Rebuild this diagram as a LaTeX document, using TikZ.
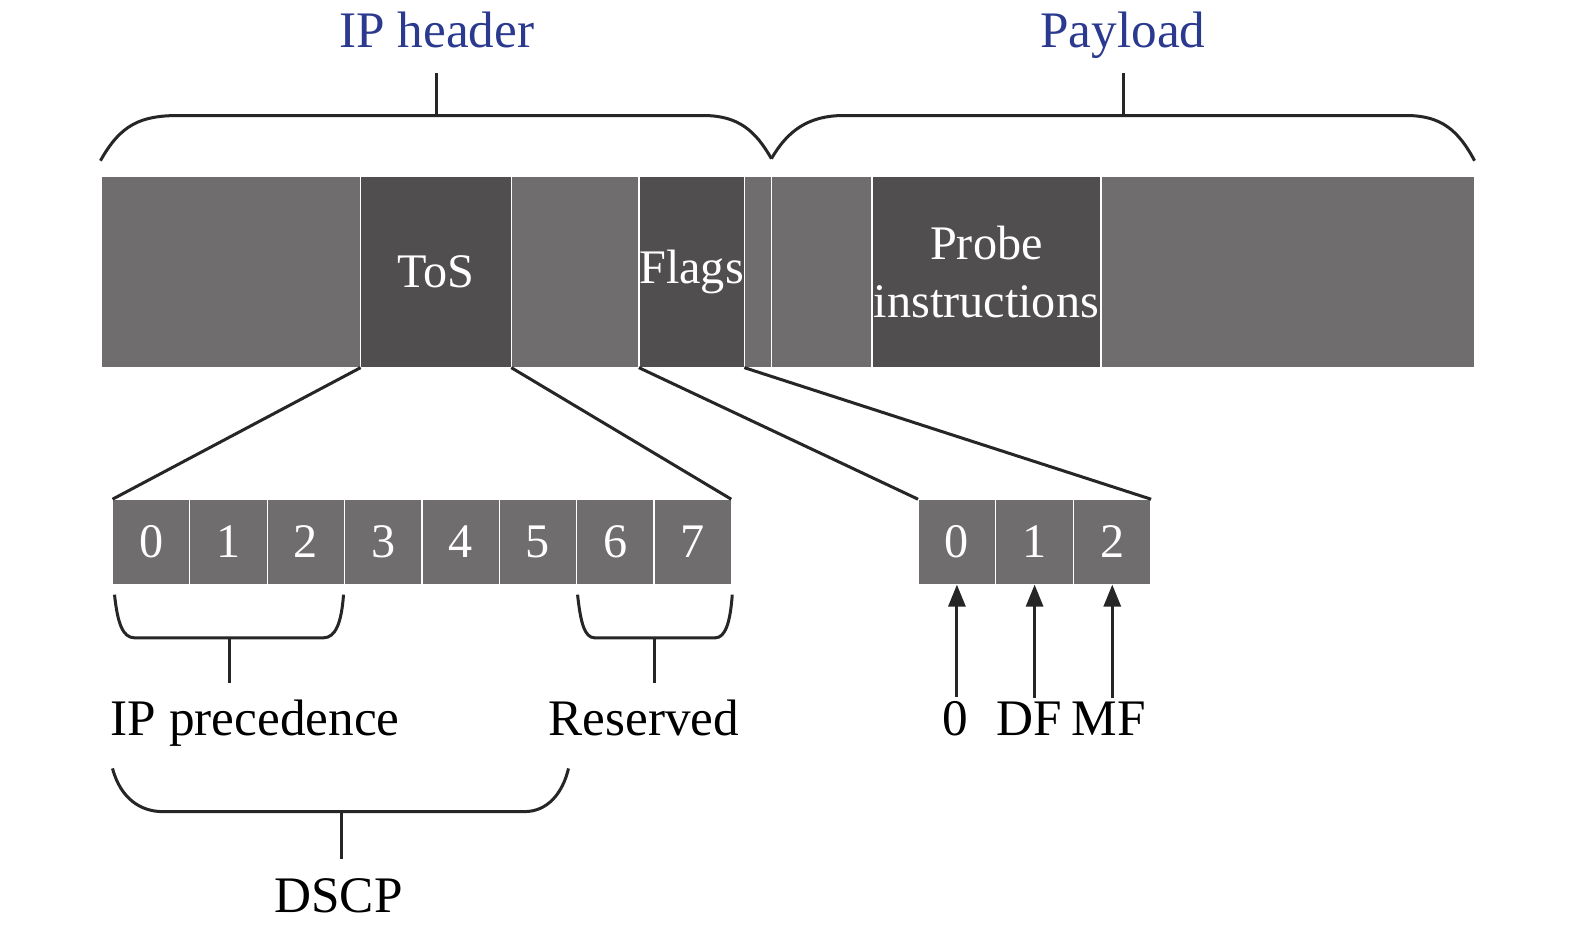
\documentclass[tikz,border=0pt]{standalone}
\usepackage{fontspec}
\setmainfont{Liberation Serif}
\usetikzlibrary{arrows.meta}
\definecolor{cellgray}{HTML}{6F6D6E}
\definecolor{celldark}{HTML}{504E4F}
\definecolor{hdrblue}{HTML}{2B3A8F}
\begin{document}
\begin{tikzpicture}[x=1pt,y=-1pt,
  cell/.style={rectangle, fill=cellgray, draw=white, line width=1.3pt, inner sep=0pt, outer sep=0pt,
    anchor=north west, text=white, minimum height=190, font=\fontsize{48}{58}\selectfont, align=center},
  darkcell/.style={cell, fill=celldark},
  bit/.style={cell, minimum height=85},
  lbl/.style={inner sep=0pt, anchor=base, font=\fontsize{51}{58}\selectfont},
  hdr/.style={lbl, text=hdrblue},
  brace/.style={line width=3pt, line join=round, line cap=butt, draw=black!85},
  link/.style={line width=3pt, draw=black!85},
  arr/.style={line width=3pt, draw=black!85, fill=black!85, -{Triangle[length=22pt,width=17pt]}}]
\useasboundingbox (0,0) rectangle (1568,929);

% header labels
\node[hdr] (iph) at (435,47) {IP header};
\node[hdr] (pay) at (1118,47) {Payload};

% top braces
\draw[brace] (100,160) .. controls (120,124) and (140,115) .. (178,115) -- (700,115)
  .. controls (735,115) and (752,130) .. (768,158);
\draw[brace] (768,158) .. controls (784,130) and (805,115) .. (840,115) -- (1400,115)
  .. controls (1435,115) and (1452,130) .. (1468,160);
\draw[brace] (435,115) -- (435,73);
\draw[brace] (1118,115) -- (1118,73);

% main bar
\node[cell, minimum width=258] (b1) at (101,176) {};
\node[darkcell, minimum width=150] (tos) at (359,176) {ToS};
\node[cell, minimum width=127] (b3) at (509,176) {};
\node[darkcell, minimum width=105] (flags) at (636,176) {Flags};
\node[cell, minimum width=27] (b5) at (741,176) {};
\node[cell, minimum width=100] (b6) at (768,176) {};
\node[darkcell, minimum width=228] (probe) at (868,176) {Probe\\instructions};
\node[cell, minimum width=372] (b8) at (1096,176) {};

% ToS bits
\foreach \i in {0,...,7}
  \node[bit, minimum width=77] (t\i) at ({112+77*\i},497) {\i};
% Flags bits
\foreach \i in {0,1,2}
  \node[bit, minimum width=77.33] (f\i) at ({914+77.33*\i},497) {\i};

% expansion lines
\draw[link] (tos.south west) -- (t0.north west);
\draw[link] (tos.south east) -- (t7.north east);
\draw[link] (flags.south west) -- (f0.north west);
\draw[link] (flags.south east) -- (f2.north east);

% lower labels
\node[lbl] (ipp) at (254,732) {IP precedence};
\node[lbl] (res) at (641,732) {Reserved};
\node[lbl] (dscp) at (337,908) {DSCP};
\node[lbl] (l0) at (951,732) {0};
\node[lbl] (ldf) at (1025,732) {DF};
\node[lbl] (lmf) at (1104,732) {MF};

% lower braces
\draw[brace] (114,592) .. controls (117,620) and (122,635) .. (134,635) -- (322,635)
  .. controls (334,635) and (340,620) .. (342,592);
\draw[brace] (228,635) -- (228,680);
\draw[brace] (575,592) .. controls (578,620) and (582,635) .. (592,635) -- (712,635)
  .. controls (722,635) and (727,620) .. (729,592);
\draw[brace] (652,635) -- (652,680);
\draw[brace] (112,765) .. controls (120,795) and (140,808) .. (162,808) -- (522,808)
  .. controls (545,808) and (560,790) .. (566,765);
\draw[brace] (340,808) -- (340,855);

% flag arrows
\draw[arr] ([yshift=4pt]f0.south |- l0.north) -- (f0.south);
\draw[arr] ([yshift=4pt]f1.south |- ldf.north) -- (f1.south);
\draw[arr] ([yshift=4pt]f2.south |- lmf.north) -- (f2.south);
\end{tikzpicture}
\end{document}
